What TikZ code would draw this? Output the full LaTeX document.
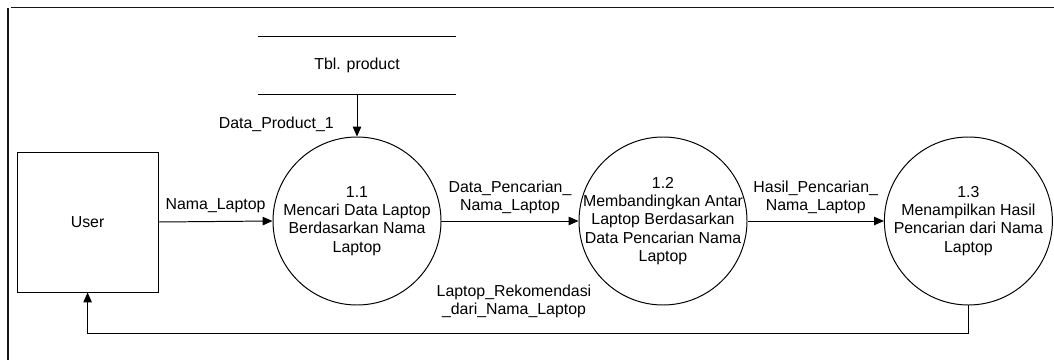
\documentclass[tikz,border=0pt]{standalone}
\usepackage{fontspec}
\setmainfont{Liberation Sans}
\usetikzlibrary{positioning, arrows.meta, calc}
\definecolor{frameblack}{RGB}{20, 20, 20}

\begin{document}
\begin{tikzpicture}[
      font=\fontsize{11.3}{12.9}\selectfont,
      >={Triangle[length=7pt, width=6pt]},
      entity/.style={rectangle, draw=black, line width=0.7pt, fill=white, minimum width=3.525cm, minimum height=3.5cm},
      process/.style={circle, draw=black, line width=0.7pt, fill=white, minimum size=4.2cm, inner sep=0pt},
      ptext/.style={align=center, inner sep=0pt},
      store/.style={minimum width=4.95cm, minimum height=1.44cm, inner sep=0pt},
      flow/.style={->, line width=0.7pt, draw=black},
      flowlabel/.style={align=center, inner sep=2pt}
  ]
  \useasboundingbox (0,0) rectangle (26.35,9);

  % Frame
  \draw[line width=1.2pt, draw=frameblack] (0.275,8.81) -- (26.35,8.81);
  \draw[line width=1.2pt, draw=frameblack] (0.2,8.8) -- (0.2,0);

  % External entity
  \node[entity] (user) at (2.19,3.45) {User};

  % Processes
  \node[process] (p11) at (8.925,3.475) {};
  \node[ptext] (t11) at (p11) {1.1\\Mencari Data Laptop\\Berdasarkan Nama\\Laptop};
  \node[process] (p12) at (16.575,3.475) {};
  \node[ptext] (t12) at (p12) {1.2\\Membandingkan Antar\\Laptop Berdasarkan\\Data Pencarian Nama\\Laptop};
  \node[process] (p13) at (24.21,3.475) {};
  \node[ptext] (t13) at (p13) {1.3\\Menampilkan Hasil\\Pencarian dari Nama\\Laptop};

  % Data store
  \node[store] (tbl) at (8.925,7.37) {Tbl. product};
  \draw[line width=0.7pt] (tbl.north west) -- (tbl.north east);
  \draw[line width=0.7pt] (tbl.south west) -- (tbl.south east);

  % Flows
  \draw[flow] (tbl.south) -- (p11.north) node[flowlabel, pos=0.7, left=0.5cm] {Data\_Product\_1};
  \draw[flow] (user.east) -- (p11.west) node[flowlabel, midway, above=4pt] {Nama\_Laptop};
  \draw[flow] (p11.east) -- (p12.west) node[flowlabel, midway, above=3pt] {Data\_Pencarian\_\\Nama\_Laptop};
  \draw[flow] (p12.east) -- (p13.west) node[flowlabel, midway, above=3pt] {Hasil\_Pencarian\_\\Nama\_Laptop};

  % Result back to user
  \draw[flow] (p13.south) -- ++(0,-0.7) -| (user.south)
      node[flowlabel, pos=0.25, above=9pt, xshift=-0.35cm] {Laptop\_Rekomendasi\\\_dari\_Nama\_Laptop};

\end{tikzpicture}
\end{document}
